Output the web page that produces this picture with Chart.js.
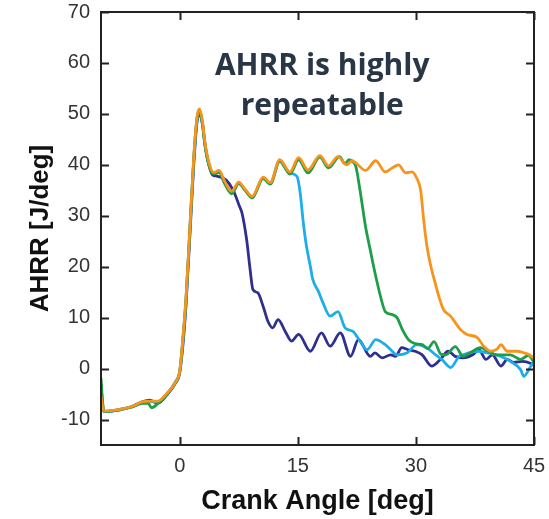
<!DOCTYPE html>
<html><head><meta charset="utf-8">
<script src="https://cdn.jsdelivr.net/npm/chart.js@4/dist/chart.umd.min.js"></script>
<style>html,body{margin:0;padding:0;background:#fff;}</style>
</head><body>
<canvas id="c" width="549" height="519"></canvas>
<script>
// ---- data ----
const xTickValues = [0, 15, 30, 45];
const yTickValues = [-10, 0, 10, 20, 30, 40, 50, 60, 70];

const angleOrange = [-10,-9.8,-9.6,-8.5,-7.6,-6.0,-4.7,-3.8,-2.8,-1.7,-0.6,0.0,0.4,0.8,1.3,1.8,2.2,2.5,2.9,3.2,3.7,4.3,5.0,5.7,6.6,7.5,8.3,9.2,10.6,11.5,12.7,14.0,15.1,16.3,17.8,18.9,20.1,21.2,21.9,22.5,23.6,24.9,26.1,27.0,27.8,28.7,29.5,30.1,30.6,31.0,31.4,32.0,32.5,32.9,33.5,34.4,35.7,36.5,37.8,38.6,39.5,40.3,40.8,41.6,42.9,43.7,44.3,45];
const ahrrOrange  = [-5.4,-7.5,-8.3,-8.2,-8.0,-7.4,-6.5,-6.4,-6.4,-5.0,-2.8,-0.5,6,14,28,42,49.5,51,48.5,44.5,40.5,38.5,38.9,36.8,34.8,36.6,35.2,33.8,37.6,36.5,41,38.6,41.4,39,41.8,39.8,41.6,40,40.8,40.2,38.9,40.8,38.6,39.4,40,38.4,38.6,37.4,35,29,24,19.4,16.5,14.2,11.6,10.3,7.6,6.7,6.1,4.4,3.4,3.8,4.7,3.4,3.4,3.1,2.8,2.0];

const angleGreen = [-10,-9.8,-9.6,-8.5,-7.6,-6.0,-4.7,-4.0,-3.6,-2.8,-1.7,-0.6,0.0,0.4,0.8,1.3,1.8,2.2,2.5,2.9,3.2,3.7,4.3,5.0,5.7,6.6,7.5,8.3,9.2,10.6,11.5,12.7,14.0,15.1,16.3,17.8,18.9,20.3,21.0,21.5,22.0,22.4,22.8,23.1,23.6,24.2,24.8,25.5,26.1,27.0,27.6,28.3,29.1,29.9,30.8,31.5,32.3,33.2,33.8,35.0,36.0,36.9,38.2,39.2,40.3,42.0,43.3,44.3,45];
const ahrrGreen  = [-1.8,-6.5,-8.4,-8.3,-8.0,-7.5,-6.8,-6.8,-7.7,-6.9,-5.2,-2.9,-0.6,5.5,13.5,27.5,41.5,49,50.6,48,44,40,38.2,38.5,36.3,34.3,36.3,35,33.5,37.3,36.2,40.7,38.2,41,38.4,41.5,39.4,41.6,40.2,41,40.6,39.5,36,33,27.9,23.3,18.8,14.2,11.2,10.6,10,7.6,5.6,4.9,4.7,3.9,5.3,2.8,2.7,4.3,2.4,3.1,4.1,3.4,2.7,2.7,1.8,2.6,1.2];

const angleLightBlue = [-10,-9.8,-9.6,-8.5,-7.6,-6.0,-4.7,-3.8,-2.8,-1.7,-0.6,0.0,0.4,0.8,1.3,1.8,2.2,2.5,2.9,3.2,3.7,4.3,5.0,5.7,6.6,7.5,8.3,9.2,10.6,11.5,12.7,14.0,14.9,15.3,15.7,16.1,16.6,16.9,17.6,18.2,19.1,20.1,21.0,22.0,22.9,23.8,24.9,26.1,26.8,27.6,28.9,30.1,31.4,32.5,33.3,34.4,35.5,36.0,37.8,39.1,40.8,42.0,43.3,43.7,44.6,45];
const ahrrLightBlue  = [-3,-7,-8.4,-8.3,-8.1,-7.5,-6.6,-6.5,-6.6,-5.1,-2.7,-0.4,5.8,13.8,27.8,41.6,49.2,50.5,48,44.2,40.2,38.3,38.6,36.5,34.6,36.4,35.1,33.7,37.4,36.3,40.8,38.4,37.7,34.5,28.6,24,20,17.5,15.2,12.9,10.3,11.2,8,7.3,5.4,3.7,5.7,4.7,3.7,2.7,3.1,4.7,4.1,2.7,1.8,0.2,2.4,2.7,3.4,3.1,2.4,1.4,-0.2,-1.5,0.5,1.4];

const angleNavy = [-10,-9.8,-9.6,-8.5,-7.6,-6.0,-4.7,-3.8,-2.8,-1.7,-0.6,0.0,0.4,0.8,1.3,1.8,2.2,2.5,2.9,3.2,3.7,4.2,4.7,5.9,6.8,7.6,7.9,8.5,8.9,9.3,9.9,10.6,11.2,11.8,12.5,13.4,14.2,15.1,16.6,18.0,19.1,20.4,21.7,22.7,24.2,24.8,25.7,26.8,27.4,28.2,29.0,29.9,30.8,32.0,33.1,34.1,35.0,36.0,37.2,38.0,38.9,39.7,40.8,41.6,42.4,43.5,44.6,45];
const ahrrNavy  = [-3,-7.5,-8.4,-8.3,-8.1,-7.4,-6.5,-6.2,-6.8,-5.3,-3,-0.8,4.5,12.5,26.5,40.5,48.5,49.8,47.8,44,40,38,37.8,37,35,31.8,30.6,25.3,20,15.5,14.9,12.2,9.3,8,9.6,7.3,5.4,6.7,3.4,7,4.4,7,2.4,5.7,2.4,3.1,2.1,2.7,2.4,4.1,3.7,3.4,2.7,0.5,1.8,3.4,2.4,2.1,2.7,3.7,1.8,2.7,0.5,1.8,1.2,1.4,1.0,0.6];

const annotationLines = ['AHRR is highly', 'repeatable'];

// ---- chart ----
const toPts = (xs, ys) => xs.map((x, i) => ({x: x, y: ys[i]}));
const FONT = "'Liberation Sans', Arial, sans-serif";

const frameTicks = {
  id: 'frameTicks',
  afterDatasetsDraw(chart) {
    const {ctx, chartArea: a, scales} = chart;
    ctx.save();
    ctx.strokeStyle = '#222';
    ctx.lineWidth = 2;
    ctx.strokeRect(a.left, a.top, a.right - a.left, a.bottom - a.top);
    const L = 8;
    ctx.beginPath();
    yTickValues.forEach(v => {
      const y = Math.round(scales.y.getPixelForValue(v)) + 0.5;
      ctx.moveTo(a.left, y); ctx.lineTo(a.left + L, y);
      ctx.moveTo(a.right, y); ctx.lineTo(a.right - L, y);
    });
    xTickValues.forEach(v => {
      const x = Math.round(scales.x.getPixelForValue(v)) + 0.5;
      ctx.moveTo(x, a.bottom); ctx.lineTo(x, a.bottom - L);
      ctx.moveTo(x, a.top); ctx.lineTo(x, a.top + L);
    });
    ctx.stroke();
    // annotation text
    ctx.fillStyle = '#283646';
    ctx.font = "bold 30px 'Open Sans', sans-serif";
    ctx.textAlign = 'center';
    ctx.textBaseline = 'alphabetic';
    const ax = scales.x.getPixelForValue(18.1);
    ctx.fillText(annotationLines[0], ax, scales.y.getPixelForValue(57.6));
    ctx.fillText(annotationLines[1], ax, scales.y.getPixelForValue(49.8));
    ctx.restore();
  }
};

const ds = (label, xs, ys, color, order) => ({
  label, data: toPts(xs, ys), borderColor: color, backgroundColor: color,
  borderWidth: 2.8, pointRadius: 0, cubicInterpolationMode: 'monotone', order
});

new Chart(document.getElementById('c'), {
  type: 'line',
  data: {
    datasets: [
      ds('orange', angleOrange, ahrrOrange, '#f7941d', 0),
      ds('green', angleGreen, ahrrGreen, '#1f9e4a', 1),
      ds('lightblue', angleLightBlue, ahrrLightBlue, '#1daeea', 2),
      ds('navy', angleNavy, ahrrNavy, '#2e2f8f', 3)
    ]
  },
  options: {
    responsive: false,
    animation: false,
    layout: {padding: {left: 0, right: 15, top: 12, bottom: 0}},
    plugins: {legend: {display: false}, tooltip: {enabled: false}},
    scales: {
      x: {
        type: 'linear', min: -10, max: 45,
        afterBuildTicks: s => { s.ticks = xTickValues.map(v => ({value: v})); },
        afterFit: s => { s.height = 74; s.paddingLeft = 0; s.paddingRight = 0; },
        grid: {display: false, drawTicks: false},
        border: {display: false},
        ticks: {font: {family: FONT, size: 20}, color: '#333', padding: 9, maxRotation: 0, autoSkip: false},
        title: {display: true, text: 'Crank Angle [deg]', color: '#111',
                font: {family: FONT, size: 27, weight: 'bold'}, padding: {top: 2, bottom: 1}}
      },
      y: {
        type: 'linear', min: -15, max: 70,
        afterBuildTicks: s => { s.ticks = yTickValues.map(v => ({value: v})); },
        afterFit: s => { s.width = 101; s.paddingTop = 0; s.paddingBottom = 0; },
        grid: {display: false, drawTicks: false},
        border: {display: false},
        ticks: {font: {family: FONT, size: 20}, color: '#333', padding: 11, autoSkip: false},
        title: {display: true, text: 'AHRR [J/deg]', color: '#111',
                font: {family: FONT, size: 26, weight: 'bold'}, padding: {top: 25, bottom: 0}}
      }
    }
  },
  plugins: [frameTicks]
});
</script>
</body></html>
